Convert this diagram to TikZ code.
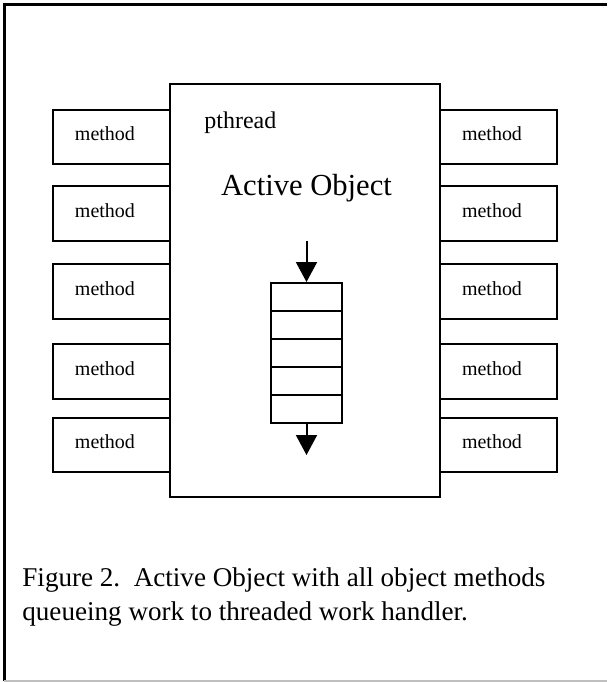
\documentclass[tikz,border=0pt]{standalone}
\usepackage{fontspec}
\setmainfont{Liberation Serif}
\usetikzlibrary{arrows.meta}
\tikzset{
  methodbox/.style={draw, line width=1pt, inner xsep=11pt, text width=36.5pt, text depth=3pt,
    minimum height=27.25pt, align=left, font=\fontsize{10}{12}\selectfont},
  qcell/.style={draw, line width=1pt, minimum width=35.5pt, minimum height=14pt, inner sep=0pt},
  qarrow/.style={line width=1pt, -{Triangle[length=10pt,width=10.5pt]}}
}
\begin{document}
\begin{tikzpicture}[x=0.5pt,y=-0.5pt]
\useasboundingbox (0,0) rectangle (607,682);
\fill[white] (0,0) rectangle (607,682);
\draw[line width=1.3pt] (4.5,681) -- (4.5,4.5) -- (607,4.5);
\draw[black!25, line width=1pt] (4.5,681) -- (607,681);

\node[draw, line width=1pt, minimum width=135pt, minimum height=206.5pt] (obj) at (305,290.5) {};

\foreach \y [count=\i] in {137,213.5,291.5,371.5,445} {
  \node[methodbox] (left\i) at (111.5,\y) {method};
  \node[methodbox] (right\i) at (498.5,\y) {method};
}

\node[anchor=west, inner sep=0pt, font=\fontsize{12}{14}\selectfont] (pthread) at (204,123) {pthread};
\node[font=\fontsize{15.3}{18}\selectfont] (title) at (306.5,188) {Active Object};

\foreach \i in {1,...,5}
  \node[qcell] (q\i) at (306.5,269+28*\i) {};

\coordinate (qin) at (306.5,241);
\coordinate (qout) at (306.5,455);
\draw[qarrow] (qin) -- (q1.north);
\draw[qarrow] (q5.south) -- (qout);

\node[anchor=north west, inner sep=0pt, align=left, font=\fontsize{13.55}{17.3}\selectfont] (caption) at (22,567)
  {Figure 2.\ \ Active Object with all object methods\\queueing work to threaded work handler.};
\end{tikzpicture}
\end{document}
